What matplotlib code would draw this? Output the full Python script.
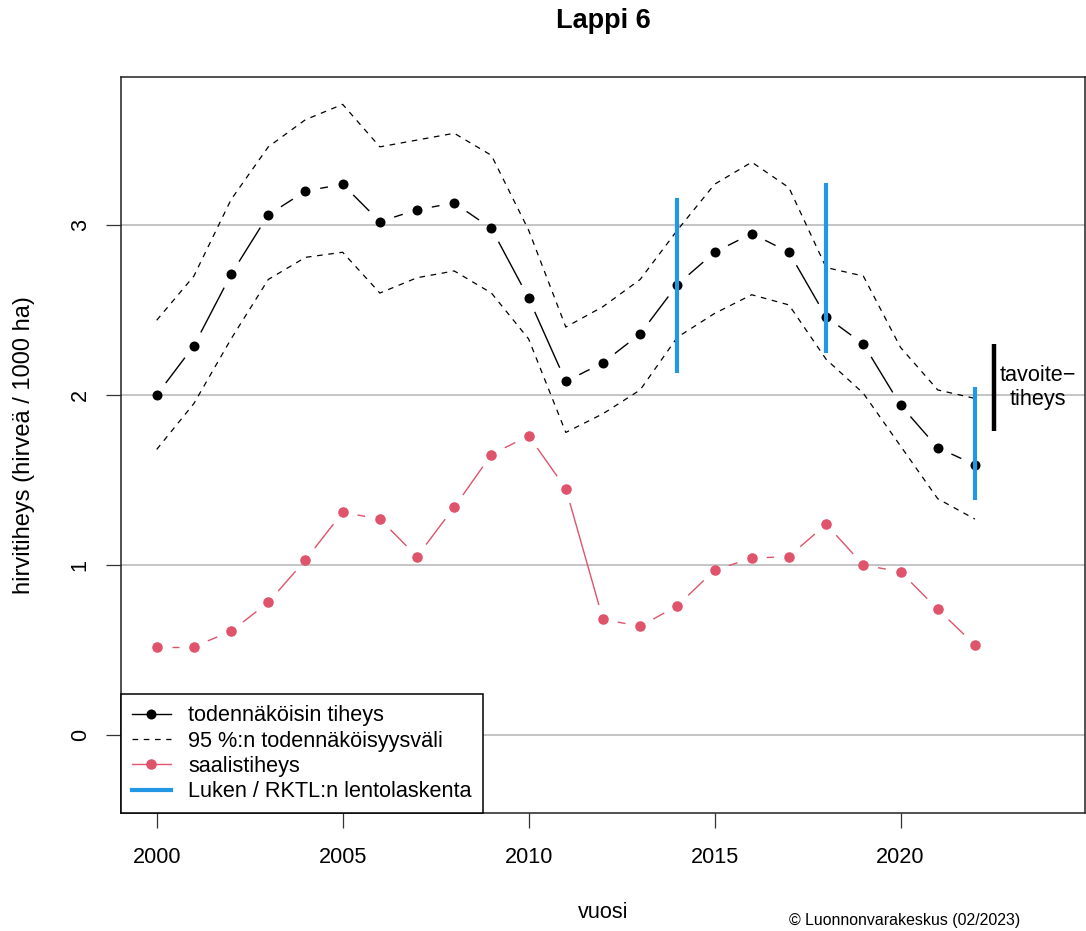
import numpy as np
import matplotlib
matplotlib.use("Agg")
import matplotlib.pyplot as plt
from matplotlib.lines import Line2D

plt.rcParams['font.family'] = ['Liberation Sans', 'DejaVu Sans']

years = np.arange(2000, 2023)

# todennäköisin tiheys ja 95 % väli
tiheys = [2.00, 2.29, 2.71, 3.06, 3.20, 3.24, 3.02, 3.09, 3.13, 2.98, 2.57, 2.08,
          2.19, 2.36, 2.65, 2.84, 2.95, 2.84, 2.46, 2.30, 1.94, 1.69, 1.59]
ylaraja = [2.44, 2.70, 3.15, 3.46, 3.62, 3.71, 3.46, 3.50, 3.54, 3.41, 2.97, 2.40,
           2.52, 2.68, 2.97, 3.24, 3.37, 3.22, 2.75, 2.70, 2.28, 2.03, 1.98]
alaraja = [1.68, 1.95, 2.33, 2.68, 2.81, 2.84, 2.60, 2.69, 2.73, 2.60, 2.33, 1.78,
           1.89, 2.03, 2.34, 2.48, 2.59, 2.53, 2.21, 2.01, 1.70, 1.39, 1.27]

# saalistiheys
saalis = [0.52, 0.52, 0.61, 0.78, 1.03, 1.31, 1.27, 1.05, 1.34, 1.65, 1.76, 1.45,
          0.68, 0.64, 0.76, 0.97, 1.04, 1.05, 1.24, 1.00, 0.96, 0.74, 0.53]

# lentolaskennat (vuosi, alaraja, yläraja)
lento_vuosi = [2014, 2018, 2022]
lento_ala = [2.13, 2.25, 1.38]
lento_yla = [3.16, 3.25, 2.05]

# tavoitetiheys
tavoite_x = 2022.52
tavoite = (1.79, 2.30)

musta = "black"
puna = "#DF536B"
sini = "#2297E6"
fs = 15.6


def type_b(ax, x, y, color, gap=15, lw=1.0, ms=7.2):
    # pisteet ja niiden väliset viivat, joissa rako pisteen ympärillä
    pts = ax.transData.transform(np.column_stack([x, y]))
    inv = ax.transData.inverted()
    for p0, p1 in zip(pts[:-1], pts[1:]):
        d = p1 - p0
        dist = np.hypot(*d)
        if dist <= 2 * gap:
            continue
        u = d / dist
        seg = inv.transform(np.array([p0 + u * gap, p1 - u * gap]))
        ax.plot(seg[:, 0], seg[:, 1], color=color, lw=lw, solid_capstyle='butt')
    ax.plot(x, y, 'o', color=color, ms=ms, mec='none')


fig = plt.figure(figsize=(10.86, 9.31), dpi=100)
ax = fig.add_axes([121 / 1086, 118 / 931, 964 / 1086, 736 / 931])
ax.set_xlim(1999.04, 2024.96)
ax.set_ylim(-0.459, 3.871)

for v in [0, 1, 2, 3]:
    ax.axhline(v, color="#b4b4b4", lw=1.1, zorder=0)

ax.plot(years, ylaraja, color=musta, lw=0.9, ls=(0, (4.5, 4.5)))
ax.plot(years, alaraja, color=musta, lw=0.9, ls=(0, (4.5, 4.5)))
type_b(ax, years, tiheys, musta)
type_b(ax, years, saalis, puna, ms=7.6)
ax.vlines(lento_vuosi, lento_ala, lento_yla, color=sini, lw=3)

ax.vlines(tavoite_x, *tavoite, color=musta, lw=3.2)
ax.text(2023.69, np.mean(tavoite), "tavoite\u2212\ntiheys", ha='center', va='center',
        fontsize=fs, linespacing=1.2)

ax.set_xticks([2000, 2005, 2010, 2015, 2020])
ax.set_yticks([0, 1, 2, 3])
ax.tick_params(axis='both', labelsize=fs, length=10.8, width=0.9, color="#333333")
ax.tick_params(axis='x', pad=14)
ax.tick_params(axis='y', pad=11)
for lab in ax.get_yticklabels():
    lab.set_rotation(90)
    lab.set_va('center')
for s in ax.spines.values():
    s.set_linewidth(1.1)
    s.set_color("#222222")

handles = [
    Line2D([], [], color=musta, lw=1.0, marker='o', ms=7.2, mec='none'),
    Line2D([], [], color=musta, lw=0.9, ls=(0, (4.5, 4.5))),
    Line2D([], [], color=puna, lw=1.0, marker='o', ms=7.6, mec='none'),
    Line2D([], [], color=sini, lw=3),
]
labels = ["todennäköisin tiheys", "95 %:n todennäköisyysväli", "saalistiheys",
          "Luken / RKTL:n lentolaskenta"]
leg = ax.legend(handles, labels, loc='lower left', bbox_to_anchor=(0, 0),
                borderaxespad=0, fontsize=fs, fancybox=False, framealpha=1,
                edgecolor=musta, handlelength=1.8, handletextpad=0.8,
                labelspacing=0.2, borderpad=0.5)
leg.get_frame().set_linewidth(1.1)

fig.text(603 / 1086, 1 - 28.5 / 931, "Lappi 6", ha='center', va='baseline',
         fontsize=19.5, fontweight='bold')
fig.text(603 / 1086, 1 - 913 / 931, "vuosi", ha='center', va='center', fontsize=fs)
fig.text(24 / 1086, 1 - 445 / 931, "hirvitiheys (hirveä / 1000 ha)", ha='center',
         va='center', rotation=90, fontsize=17)
fig.text(905 / 1086, 1 - 921 / 931, "© Luonnonvarakeskus (02/2023)", ha='center',
         va='center', fontsize=11.4)

fig.savefig("out.png", dpi=100)
